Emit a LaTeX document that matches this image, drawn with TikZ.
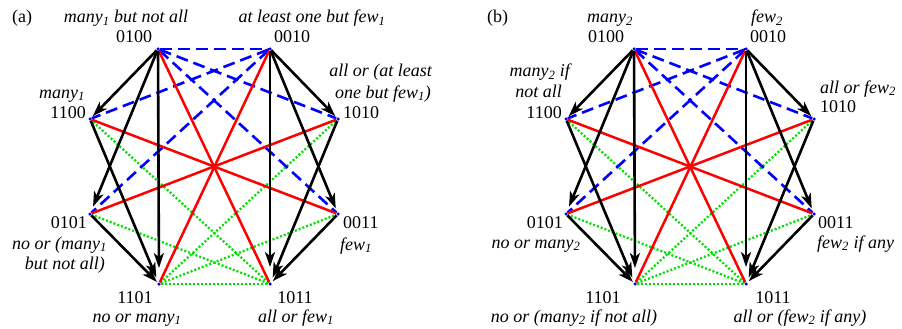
\documentclass[tikz,border=0pt]{standalone}
\usepackage{fontspec}
\setmainfont{Liberation Serif}
\usetikzlibrary{arrows.meta}
\definecolor{subg}{RGB}{0,225,0}
\tikzset{
  vtx/.style={circle,fill=blue,inner sep=0pt,minimum size=3.5pt},
  impl/.style={draw=black,line width=2.6pt,-{Stealth[length=15pt,width=10pt,inset=4pt]}},
  contra/.style={draw=red,line width=2.5pt},
  contrary/.style={draw=blue,line width=2.6pt,dash pattern=on 12pt off 6pt},
  subc/.style={draw=subg,line width=2.3pt,dash pattern=on 2pt off 2pt},
  txt/.style={inner sep=0pt,font=\fontsize{18}{20}\selectfont},
  itx/.style={txt,font=\fontsize{18}{20}\selectfont\itshape},
}
\newcommand\hexgraph[2]{%
\begin{scope}[xshift=#2pt]
\node[vtx] (#1-0100) at (158,49) {};
\node[vtx] (#1-0010) at (270,49) {};
\node[vtx] (#1-1100) at (90,119) {};
\node[vtx] (#1-1010) at (338,119) {};
\node[vtx] (#1-0101) at (90,214) {};
\node[vtx] (#1-0011) at (338,214) {};
\node[vtx] (#1-1101) at (159,284) {};
\node[vtx] (#1-1011) at (270,284) {};
\foreach \u/\v in {1101/1011,1101/0011,1101/1010,1011/0101,1011/1100}
  \draw[subc] (#1-\u) -- (#1-\v);
\foreach \u/\v in {0100/0010,0100/1010,0100/0011,0010/1100,0010/0101}
  \draw[contrary] (#1-\u) -- (#1-\v);
\foreach \u/\v in {0100/1011,0010/1101,1100/0011,1010/0101}
  \draw[contra] (#1-\u) -- (#1-\v);
\foreach \u/\v/\s in {0100/1100/2,0100/0101/6,0100/1101/14,1100/1101/5,0101/1101/1,
                      0010/1010/2,0010/0011/4,0010/1011/15,1010/1011/5,0011/1011/2}
  \draw[impl,shorten >=\s pt] (#1-\u) -- (#1-\v);
\end{scope}}
\begin{document}
\begin{tikzpicture}[x=1pt,y=-1pt]
\useasboundingbox (0,0) rectangle (902,329);
\hexgraph{a}{0}
\hexgraph{b}{476}
% labels (a)
\node[txt,anchor=base west] (la) at (12,23) {(a)};
\node[itx,anchor=base] (a-t0100) at (126,23) {many\textsubscript{1} but not all};
\node[txt,anchor=base] (a-n0100) at (134,43) {0100};
\node[itx,anchor=base] (a-t0010) at (312,23) {at least one but few\textsubscript{1}};
\node[txt,anchor=base] (a-n0010) at (292,43) {0010};
\node[itx,anchor=base east] (a-t1010a) at (432,77) {all or (at least};
\node[itx,anchor=base east] (a-t1010b) at (431,98) {one but few\textsubscript{1})};
\node[txt,anchor=base west] (a-n1010) at (343,118) {1010};
\node[itx,anchor=base east] (a-t1100) at (85,98) {many\textsubscript{1}};
\node[txt,anchor=base east] (a-n1100) at (86,118) {1100};
\node[txt,anchor=base east] (a-n0101) at (87,228) {0101};
\node[itx,anchor=base east] (a-t0101a) at (107,249) {no or (many\textsubscript{1}};
\node[itx,anchor=base east] (a-t0101b) at (105,269) {but not all)};
\node[txt,anchor=base west] (a-n0011) at (343,228) {0011};
\node[itx,anchor=base west] (a-t0011) at (340,250) {few\textsubscript{1}};
\node[txt,anchor=base] (a-n1101) at (135,303) {1101};
\node[itx,anchor=base] (a-t1101) at (137,322) {no or many\textsubscript{1}};
\node[txt,anchor=base] (a-n1011) at (295,303) {1011};
\node[itx,anchor=base] (a-t1011) at (296,322) {all or few\textsubscript{1}};
% labels (b)
\node[txt,anchor=base west] (lb) at (487,23) {(b)};
\node[itx,anchor=base] (b-t0100) at (610,23) {many\textsubscript{2}};
\node[txt,anchor=base] (b-n0100) at (606,43) {0100};
\node[itx,anchor=base] (b-t0010) at (767,23) {few\textsubscript{2}};
\node[txt,anchor=base] (b-n0010) at (768,43) {0010};
\node[itx,anchor=base east] (b-t1100a) at (570,77) {many\textsubscript{2} if};
\node[itx,anchor=base east] (b-t1100b) at (562,97) {not all};
\node[txt,anchor=base east] (b-n1100) at (562,118) {1100};
\node[itx,anchor=base west] (b-t1010) at (820,93) {all or few\textsubscript{2}};
\node[txt,anchor=base west] (b-n1010) at (820,112) {1010};
\node[txt,anchor=base east] (b-n0101) at (563,228) {0101};
\node[itx,anchor=base] (b-t0101) at (536,248) {no or many\textsubscript{2}};
\node[txt,anchor=base west] (b-n0011) at (818,228) {0011};
\node[itx,anchor=base west] (b-t0011) at (817,248) {few\textsubscript{2} if any};
\node[txt,anchor=base] (b-n1101) at (603,303) {1101};
\node[itx,anchor=base] (b-t1101) at (574,322) {no or (many\textsubscript{2} if not all)};
\node[txt,anchor=base] (b-n1011) at (773,303) {1011};
\node[itx,anchor=base] (b-t1011) at (800,322) {all or (few\textsubscript{2} if any)};
\end{tikzpicture}
\end{document}
